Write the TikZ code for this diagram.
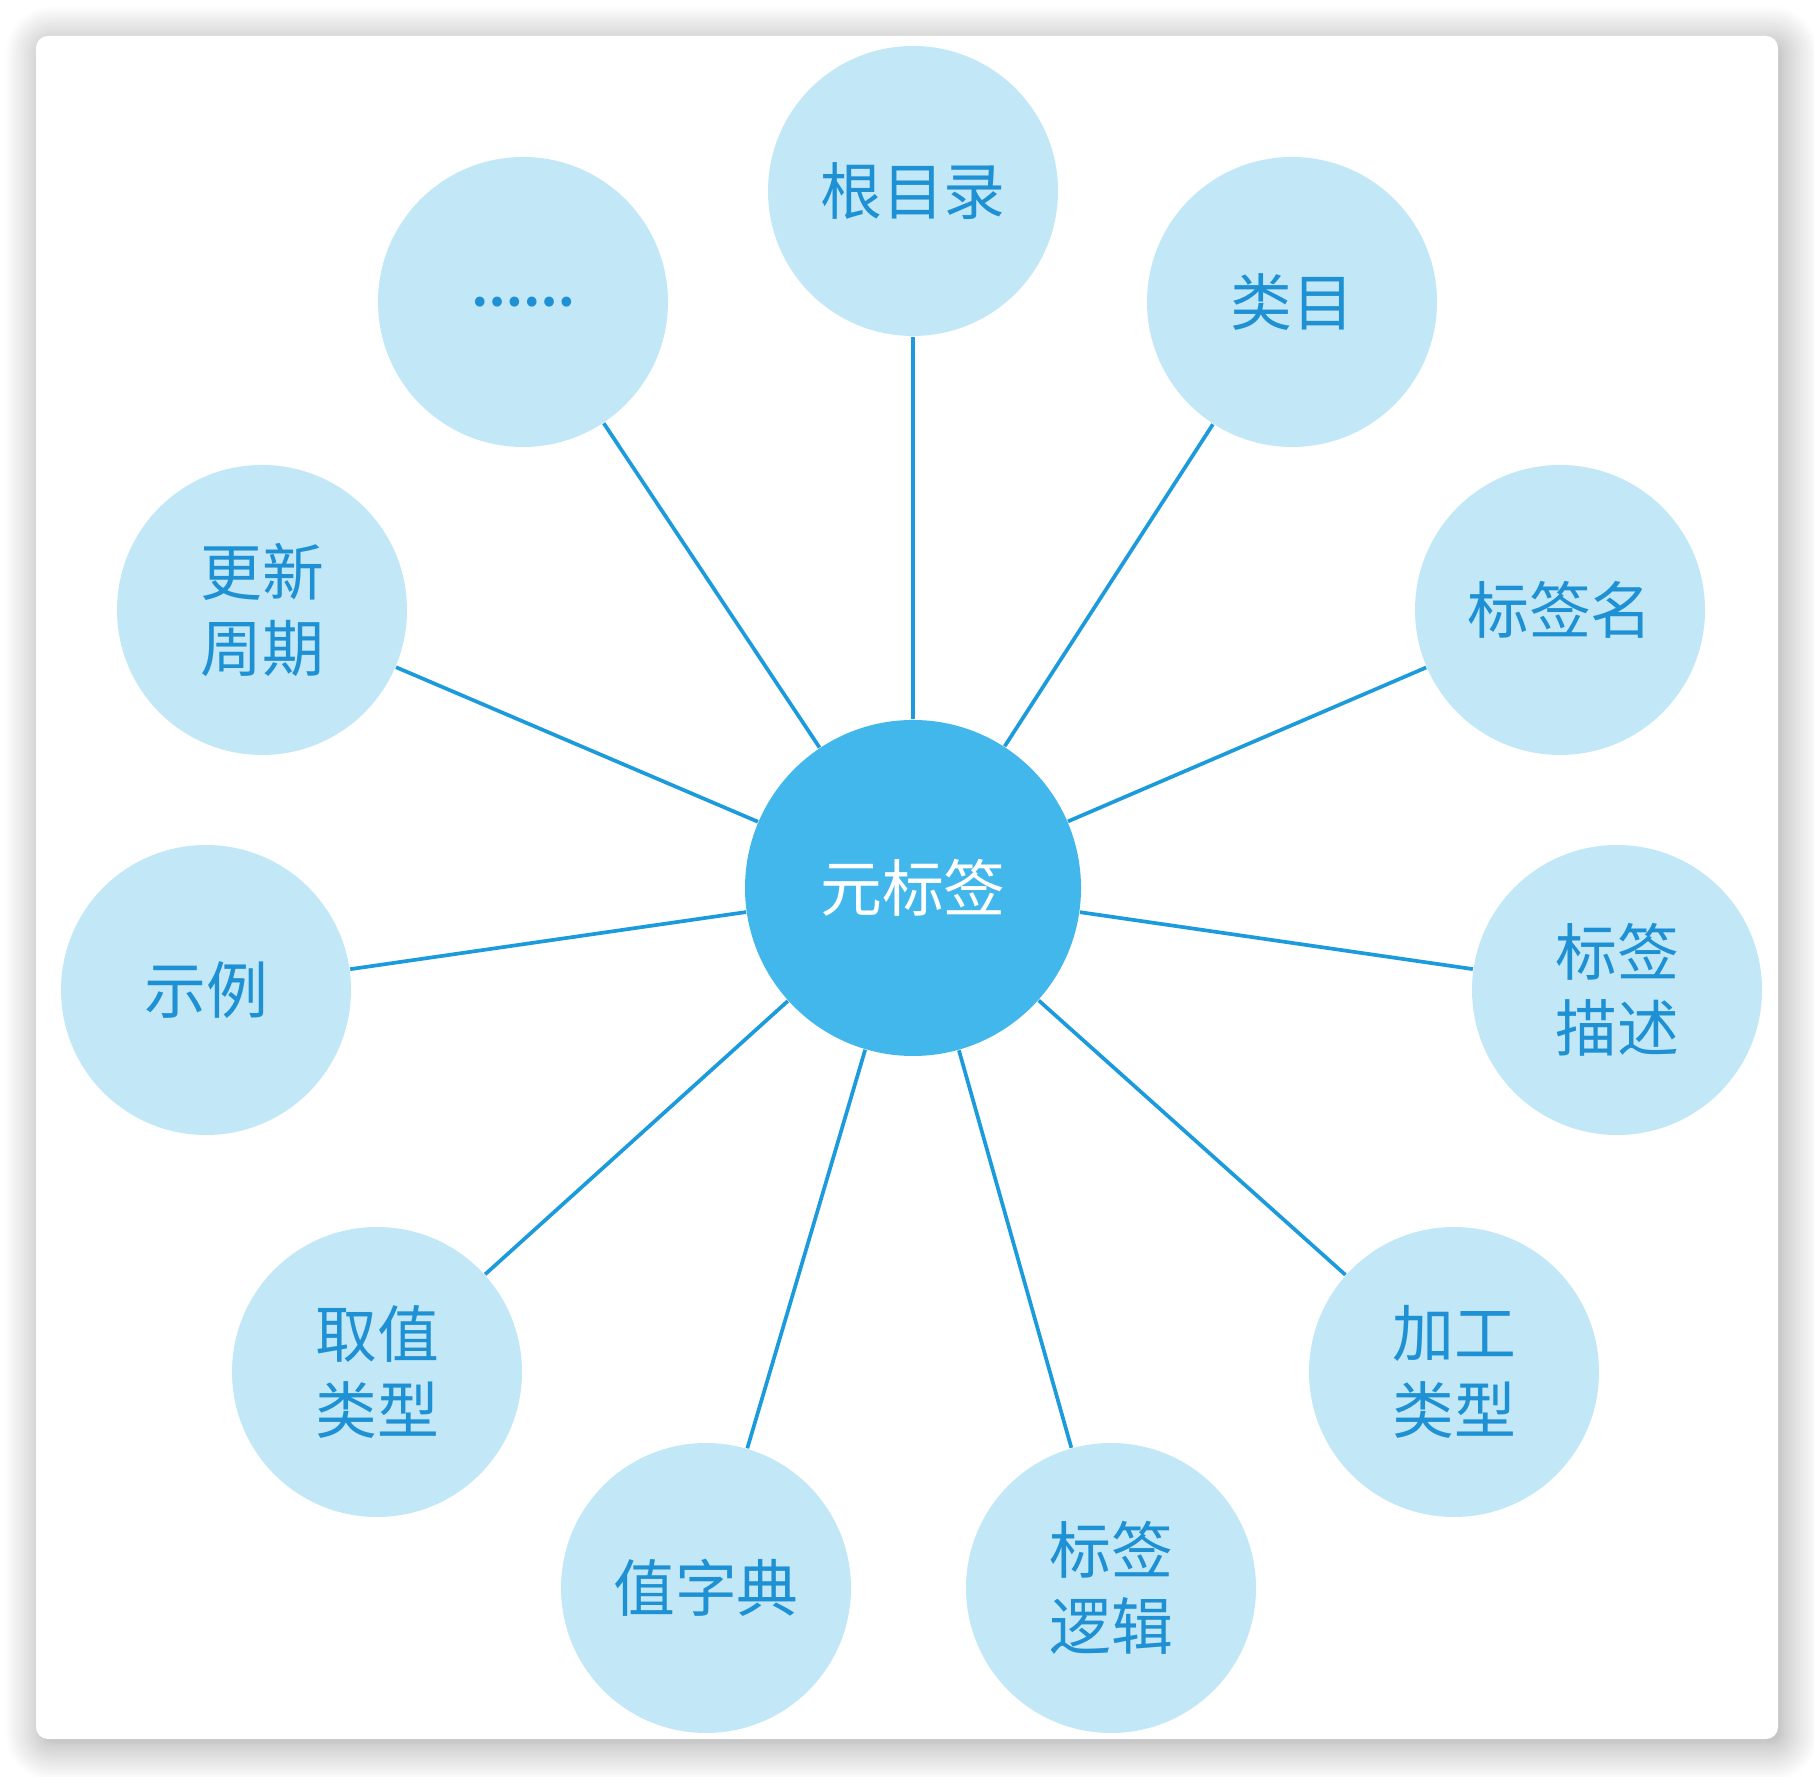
\documentclass[tikz,border=0pt]{standalone}
\usepackage{fontspec}
\newfontfamily\cjk{Noto Sans CJK SC}
\usepackage{tikz}
\usetikzlibrary{shadows.blur}
\definecolor{hubblue}{HTML}{42B7EC}
\definecolor{leafblue}{HTML}{C2E8F7}
\definecolor{linkblue}{HTML}{1C9BDC}
\definecolor{textblue}{HTML}{1E90D4}
\tikzset{
    metaframe/.style={fill=white, rounded corners=0.12cm, blur shadow={shadow xshift=0.05cm, shadow yshift=-0.06cm, shadow blur radius=0.36cm, shadow blur steps=14, shadow opacity=38}},
    metahub/.style={circle, fill=hubblue, minimum size=3.36cm, inner sep=0pt, text=white, align=center, font=\cjk\fontsize{17.6}{21.7}\selectfont},
    metaleaf/.style={circle, fill=leafblue, minimum size=2.9cm, inner sep=0pt, text=textblue, align=center, font=\cjk\fontsize{17.6}{21.7}\selectfont},
    metalink/.style={draw=linkblue, line width=1.05pt}
}
\begin{document}
\begin{tikzpicture}
    \useasboundingbox (0,0) rectangle (18.14,17.76);
    \fill[metaframe] (0.36,0.37) rectangle (17.78,17.40);

    \node[metahub] (hub) at (9.13,8.88) {元标签};

    \node[metaleaf] (root) at (9.13,15.85) {根目录};
    \node[metaleaf] (category) at (12.92,14.74) {类目};
    \node[metaleaf] (tagname) at (15.60,11.66) {标签名};
    \node[metaleaf] (tagdesc) at (16.17,7.86) {标签\\描述};
    \node[metaleaf] (proctype) at (14.54,4.04) {加工\\类型};
    \node[metaleaf] (taglogic) at (11.11,1.88) {标签\\逻辑};
    \node[metaleaf] (valdict) at (7.06,1.88) {值字典};
    \node[metaleaf] (valtype) at (3.77,4.04) {取值\\类型};
    \node[metaleaf] (example) at (2.06,7.86) {示例};
    \node[metaleaf] (cycle) at (2.62,11.66) {更新\\周期};
    \node[metaleaf, font=\cjk\bfseries\fontsize{13}{16}\selectfont] (more) at (5.23,14.74) {……};

    \draw[metalink] (hub) -- (root);
    \draw[metalink] (hub) -- (category);
    \draw[metalink] (hub) -- (tagname);
    \draw[metalink] (hub) -- (tagdesc);
    \draw[metalink] (hub) -- (proctype);
    \draw[metalink] (hub) -- (taglogic);
    \draw[metalink] (hub) -- (valdict);
    \draw[metalink] (hub) -- (valtype);
    \draw[metalink] (hub) -- (example);
    \draw[metalink] (hub) -- (cycle);
    \draw[metalink] (hub) -- (more);
\end{tikzpicture}
\end{document}
